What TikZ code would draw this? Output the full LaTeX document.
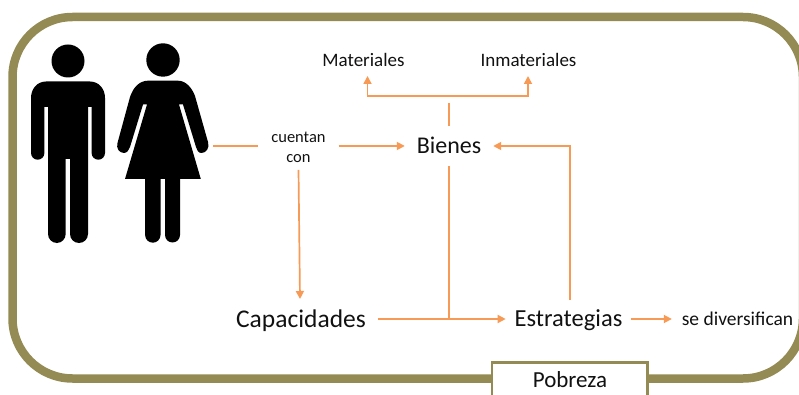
\documentclass[tikz,border=0pt]{standalone}
\usepackage{fontspec}
\setmainfont{Carlito}
\usetikzlibrary{arrows.meta}
\definecolor{olive}{HTML}{948A54}
\definecolor{conn}{HTML}{F79A55}
\definecolor{ink}{HTML}{111111}
\tikzset{
  frameline/.style={draw=olive,line width=8.5pt,rounded corners=60pt},
  lbl/.style={inner sep=0pt,text=ink,text height=#1*0.78pt,text depth=#1*0.14pt,font=\fontsize{#1}{#1}\selectfont},
  conline/.style={draw=conn,line width=1.7pt},
  conarrow/.style={conline,-{Triangle[length=8pt,width=8pt,color=conn]}},
  silhouette/.style={fill=black,draw=none},
}
\begin{document}
\begin{tikzpicture}[x=1pt,y=-1pt]
\useasboundingbox (0,0) rectangle (799,395);
\clip (0,0) rectangle (799,395);
% frame
\path[frameline] (12.5,17) rectangle (803,378.5);
% man
\fill[silhouette] (68,61) circle (16.5);
\fill[silhouette] (46,81.5) -- (90,81.5) .. controls (99,81.5) and (105,89) .. (105,98)
  -- (105,153) arc[start angle=0,end angle=180,radius=6.7] -- (91.6,107) -- (88,107)
  -- (88,234) arc[start angle=0,end angle=90,radius=9] -- (79,243) arc[start angle=90,end angle=180,radius=9]
  -- (70,159) -- (65.7,159) -- (65.7,234) arc[start angle=0,end angle=90,radius=9] -- (57,243)
  arc[start angle=90,end angle=180,radius=9] -- (48,107) -- (44.4,107) -- (44.4,153)
  arc[start angle=0,end angle=180,radius=6.7] -- (31,98) .. controls (31,89) and (37,81.5) .. (46,81.5) -- cycle;
% woman
\fill[silhouette] (163,60) circle (16.7);
\fill[silhouette] (148,80.7) -- (178,80.7) .. controls (186,80.7) and (192,88) .. (195,96)
  -- (208,142) .. controls (210,148) and (206,153) .. (201.5,153) .. controls (198,153) and (197,150) .. (196,147)
  -- (183,104.5) -- (179,104.5) -- (200.8,179) -- (180,179) -- (180,235)
  arc[start angle=0,end angle=180,radius=7.5] -- (165,179) -- (160.5,179) -- (160.5,235)
  arc[start angle=0,end angle=180,radius=7.7] -- (145,179) -- (125,179) -- (147,104.5) -- (143,104.5)
  -- (130,147) .. controls (129,150) and (127,153) .. (124,153) .. controls (119,153) and (116,148) .. (117.5,143)
  -- (130,97) .. controls (133,88) and (139,80.7) .. (148,80.7) -- cycle;
% labels
\node[lbl=19,outer ysep=3pt] (mat) at (363.5,60.5) {Materiales};
\node[lbl=19,outer ysep=3pt] (inm) at (528.5,60.5) {Inmateriales};
\node[lbl=24,outer xsep=12pt,outer ysep=9pt] (bie) at (449,146) {Bienes};
\node[align=center,inner sep=0pt,text=ink,font=\fontsize{16.5}{20}\selectfont,outer xsep=13pt,outer ysep=7pt] (cue) at (298.5,147.5) {cuentan\\con};
\node[lbl=25.5,outer xsep=12pt] (cap) at (301,319) {Capacidades};
\node[lbl=24.5,outer xsep=9pt] (est) at (568.5,319) {Estrategias};
\node[lbl=19.5,outer xsep=10pt] (div) at (737.5,319) {se diversifican};
% connector free ends and joints
\coordinate (hand) at (213,146);
\coordinate (split) at (449,96);
\coordinate (stub) at (449,103);
\coordinate (join) at (449,319);
\coordinate (matarrow) at (367.5,76);
\coordinate (inmarrow) at (528,76);
\coordinate (capend) at (300,299);
\coordinate (estup) at (570,300);
% connectors
\draw[conline] (hand) -- (cue.west |- hand);
\draw[conarrow] (cue.east |- hand) -- (bie.west);
\draw[conarrow] (cue.south) -- (capend);
\draw[conline] (stub) -- (bie.north);
\draw[conarrow] (split) -| (matarrow);
\draw[conarrow] (split) -| (inmarrow);
\draw[conline] (bie.south) -- (join);
\draw[conarrow] (cap.east) -- (est.west);
\draw[conarrow] (estup) |- (bie.east);
\draw[conarrow] (est.east) -- (div.west);
% Pobreza box
\node[draw=olive,line width=2.5pt,fill=white,minimum width=155.5pt,minimum height=60pt,inner sep=0pt,anchor=north] (pob) at (569.5,361) {};
\node[lbl=23] (pobt) at (570,380) {Pobreza};
\end{tikzpicture}
\end{document}
